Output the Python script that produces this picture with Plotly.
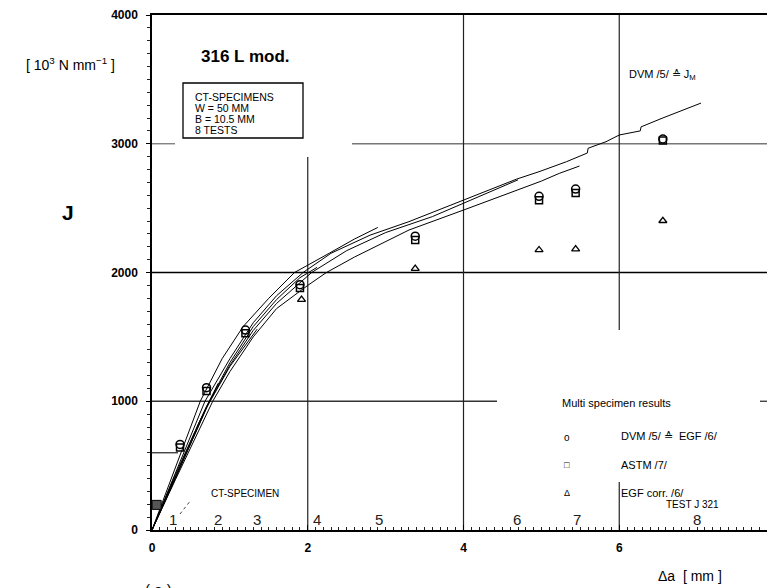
import plotly.graph_objects as go

# ---------------- data ----------------
# R-curves of the 8 CT specimens (Δa in mm, J in 10^3 N/mm)
c1_x = [0, 0.3, 0.62, 0.9, 1.17, 1.5, 1.83, 2.28, 2.6, 2.9]
c1_y = [0, 480, 1000, 1330, 1580, 1800, 2000, 2151, 2260, 2350]
c2_x = [0, 0.3, 0.68, 1.0, 1.3, 1.6, 1.94, 2.3, 2.8, 3.3, 4.0, 4.37, 4.68, 4.97, 5.32,
        5.59, 5.6, 5.83, 6.0, 6.27, 6.28, 6.55, 7.05]
c2_y = [0, 440, 1000, 1330, 1610, 1820, 2000, 2150, 2290, 2395, 2563, 2655, 2725, 2783, 2860,
        2928, 2965, 3016, 3068, 3100, 3131, 3198, 3316]
c3_x = [0, 0.3, 0.74, 1.0, 1.3, 1.6, 2.05, 2.5, 3.0, 3.6, 4.0, 4.37, 4.7]
c3_y = [0, 410, 1000, 1280, 1550, 1760, 2000, 2170, 2310, 2434, 2538, 2640, 2720]
c4_x = [0, 0.3, 0.78, 1.0, 1.3, 1.6, 2.0, 2.24, 2.6, 3.3, 4.0, 4.46, 5.0, 5.23, 5.49]
c4_y = [0, 390, 1000, 1230, 1500, 1720, 1900, 2000, 2120, 2330, 2485, 2589, 2710, 2770, 2827]
c5_x = [0, 0.3, 0.7, 1.0, 1.3, 1.6, 1.9, 2.12]
c5_y = [0, 430, 960, 1300, 1580, 1790, 1960, 2040]
c6_x = [0, 0.3, 0.7, 1.0, 1.35]
c6_y = [0, 400, 950, 1270, 1560]
c7_x = [0, 0.3, 0.6, 0.85]
c7_y = [0, 420, 830, 1140]
c8_x = [0, 0.27]
c8_y = [0, 380]
curves = [(c1_x, c1_y), (c2_x, c2_y), (c3_x, c3_y), (c4_x, c4_y),
          (c5_x, c5_y), (c6_x, c6_y), (c7_x, c7_y), (c8_x, c8_y)]

# multi specimen results
dvm_x = [0.36, 0.70, 1.20, 1.90, 3.38, 4.97, 5.44, 6.56]
dvm_y = [665, 1105, 1553, 1905, 2282, 2592, 2648, 3037]
astm_x = [0.36, 0.70, 1.20, 1.90, 3.38, 4.97, 5.44, 6.56]
astm_y = [640, 1080, 1528, 1880, 2252, 2562, 2618, 3025]
egf_x = [1.92, 3.38, 4.97, 5.44, 6.56]
egf_y = [1790, 2030, 2175, 2182, 2402]
start_x = [0.06]
start_y = [195]

# specimen numbers along the bottom
num_labels = ["1", "2", "3", "4", "5", "6", "7", "8"]
num_x = [0.27, 0.85, 1.35, 2.12, 2.91, 4.69, 5.46, 7.0]

x_ticks = [0, 2, 4, 6, 8]
y_ticks = [0, 1000, 2000, 3000, 4000]

# ---------------- helpers (screen pixel -> data / paper, layout only) ----------------
OFF = 8                     # page body margin of the browser
W, H = 775 - OFF, 588 - OFF
L, T, B = 152, 15, 530       # plot area in screen pixels
PW = 775 - L
PH = B - T
XS = PW / 8.0
YS = PH / 4000.0


def X(px):
    return (px - L) / XS


def Y(py):
    return (B - py) / YS


def PX(px):
    return (px - L) / PW


def PY(py):
    return (B - py) / PH


FONT = "Liberation Sans, Arial, sans-serif"

fig = go.Figure()

for cx, cy in curves:
    fig.add_trace(go.Scatter(x=cx, y=cy, mode="lines",
                             line=dict(color="black", width=1), hoverinfo="skip"))

fig.add_trace(go.Scatter(x=astm_x, y=astm_y, mode="markers",
                         marker=dict(symbol="square-open", size=7, color="black",
                                     line=dict(width=1.5))))
fig.add_trace(go.Scatter(x=dvm_x, y=dvm_y, mode="markers",
                         marker=dict(symbol="circle-open", size=8, color="black",
                                     line=dict(width=1.5))))
fig.add_trace(go.Scatter(x=egf_x, y=egf_y, mode="markers",
                         marker=dict(symbol="triangle-up-open", size=7, color="black",
                                     line=dict(width=1.3))))
fig.add_trace(go.Scatter(x=start_x, y=start_y, mode="markers",
                         marker=dict(symbol="square", size=9, color="#555",
                                     line=dict(width=1, color="black"))))

# ---------------- partial grid lines ----------------
hsegs = [  # (y, x0, x1, color)
    (3000, 0, X(175), "#777"),
    (3000, X(352), 8, "#777"),
    (2000, 0, 8, "black"),
    (1000, 0, X(497), "#333"),
    (1000, X(760), X(772), "#333"),
    (600, 0, X(178), "#333"),
]
vsegs = [  # (x, y0, y1)
    (2, 0, Y(157)),
    (4, 0, 4000),
    (6, Y(330), 4000),
    (6, 0, Y(482)),
]
shapes = []
for yv, x0, x1, col in hsegs:
    shapes.append(dict(type="line", xref="x", yref="y", x0=x0, x1=x1, y0=yv, y1=yv,
                       line=dict(color=col, width=1.3), layer="below"))
for xv, y0, y1 in vsegs:
    shapes.append(dict(type="line", xref="x", yref="y", x0=xv, x1=xv, y0=y0, y1=y1,
                       line=dict(color="#222", width=1.2), layer="below"))
# info box
shapes.append(dict(type="rect", xref="x", yref="y", x0=X(183), x1=X(303), y0=Y(138), y1=Y(83),
                   line=dict(color="black", width=1.3), fillcolor="white", layer="below"))
# CT-specimen pointer
shapes.append(dict(type="line", xref="x", yref="y", x0=X(180), x1=X(191), y0=Y(514), y1=Y(500),
                   line=dict(color="#444", width=1, dash="dot")))

ann = []


def add(text, px, py, size=11, bold=False, xanchor="center", yanchor="middle", color="black"):
    ann.append(dict(text=text, x=PX(px), y=PY(py), xref="paper", yref="paper", showarrow=False,
                    xanchor=xanchor, yanchor=yanchor,
                    font=dict(family=FONT, size=size, color=color,
                              weight="bold" if bold else "normal")))


add("316 L mod.", 245, 56, size=17, bold=True)
add("CT-SPECIMENS", 193, 97, size=10.5, xanchor="left")
add("W = 50 MM", 193, 107.5, size=10.5, xanchor="left")
add("B = 10.5 MM", 193, 118.5, size=10.5, xanchor="left")
add("8 TESTS", 193, 130, size=10.5, xanchor="left")
add("[ 10<sup>3</sup> N mm<sup>−1</sup> ]", 70, 64, size=14)
add("J", 68, 212, size=21, bold=True)
add("DVM /5/ ≙ J<sub>M</sub>", 627, 75, size=11, xanchor="left")
add("Multi specimen results", 560, 403, size=11, xanchor="left")
add("o", 567, 437, size=10)
add("DVM /5/ ≙  EGF /6/", 619, 436, size=11, xanchor="left")
add("□", 567, 465, size=9)
add("ASTM /7/", 619, 465, size=11, xanchor="left")
add("Δ", 567, 493, size=9)
add("EGF corr. /6/", 619, 493, size=11, xanchor="left")
add("CT-SPECIMEN", 245, 493, size=10)
add("TEST J 321", 692, 504, size=10)
add("Δa  [ mm ]", 690, 576, size=14)
add("( a )", 158, 589, size=15)
add("8", 777, 547, size=12, bold=True)
for lbl, xv in zip(num_labels, num_x):
    ann.append(dict(text=lbl, x=xv, y=Y(519), xref="x", yref="y", showarrow=False,
                    font=dict(family=FONT, size=15, color="#222")))

fig.update_layout(
    width=W, height=H,
    margin=dict(l=L - OFF, r=0, t=T - OFF, b=H - (B - OFF), autoexpand=False),
    paper_bgcolor="white", plot_bgcolor="white",
    showlegend=False,
    shapes=shapes, annotations=ann,
    xaxis=dict(range=[0, 8], tickvals=x_ticks, ticktext=[str(v) for v in x_ticks],
               showgrid=False, zeroline=False, showline=True, linecolor="black", linewidth=1.5,
               mirror=True, ticks="inside", ticklen=5, tickcolor="black",
               minor=dict(dtick=0.1, ticks="inside", ticklen=3, tickcolor="#222"),
               tickfont=dict(family=FONT, size=12, color="black", weight="bold"),
               ticklabelstandoff=6),
    yaxis=dict(range=[0, 4000], tickvals=y_ticks, ticktext=[str(v) for v in y_ticks],
               showgrid=False, zeroline=False, showline=True, linecolor="black", linewidth=1.5,
               ticks="outside", ticklen=4, tickcolor="black",
               minor=dict(dtick=100, ticks="outside", ticklen=3, tickcolor="#222"),
               tickfont=dict(family=FONT, size=12, color="black", weight="bold"),
               ticklabelstandoff=6),
)

fig.write_html("out.html")
